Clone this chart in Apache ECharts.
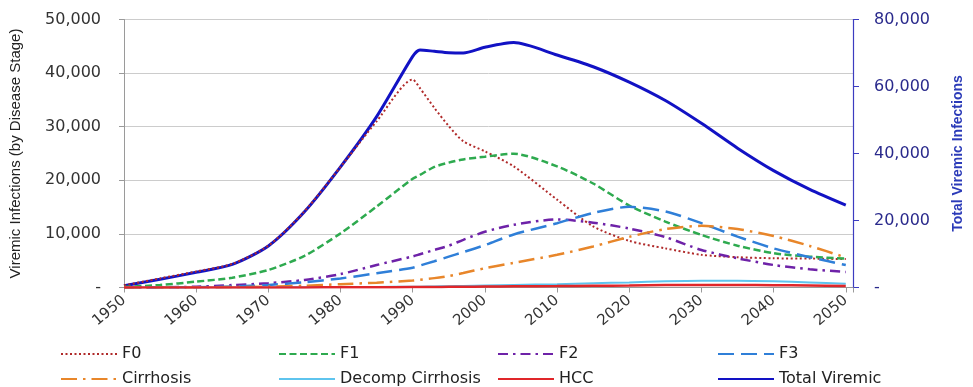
<!DOCTYPE html>
<html>
<head>
<meta charset="utf-8">
<script src="https://cdn.jsdelivr.net/npm/echarts@6/dist/echarts.min.js"></script>
<style>
  html, body { margin: 0; padding: 0; background: #fff; }
  #chart { width: 973px; height: 387px; }
</style>
</head>
<body>
<div id="chart"></div>
<script>
// Viremic infections by disease stage, 1950-2050 (left axis),
// with total viremic infections on the right axis.
const years = [1950, 1955, 1960, 1965, 1970, 1975, 1980, 1985, 1990, 1991, 1993, 1995,
               1997, 2000, 2004, 2010, 2015, 2020, 2025, 2030, 2035, 2040, 2045, 2050];

const f0 = [400, 1700, 3000, 4400, 7800, 14200, 22500, 31000, 38800, 37200, 33500, 30100,
            27300, 25400, 22600, 16400, 11400, 8700, 7300, 6100, 5650, 5450, 5400, 5300];
const f1 = [100, 470, 1090, 1830, 3270, 5900, 10100, 15100, 20300, 21000, 22500, 23300,
            23900, 24400, 24950, 22600, 19400, 15300, 12300, 9800, 7800, 6400, 5750, 5400];
const f2 = [0, 50, 150, 450, 800, 1400, 2500, 4200, 5800, 6200, 7000, 7800,
            8900, 10400, 11700, 12700, 12100, 11000, 9400, 7000, 5450, 4200, 3400, 2900];
const f3 = [0, 20, 60, 180, 470, 970, 1700, 2650, 3700, 4100, 4900, 5760,
            6600, 7900, 9900, 12000, 13900, 15050, 14200, 12000, 9500, 7300, 5650, 4200];
const cirrhosis = [0, 10, 30, 80, 160, 330, 620, 900, 1300, 1450, 1750, 2150,
                   2700, 3600, 4600, 6100, 7650, 9450, 10900, 11500, 10900, 9600, 7750, 5600];
const decompCirrhosis = [0, 0, 0, 10, 20, 40, 70, 100, 150, 160, 200, 240,
                         290, 360, 460, 620, 780, 950, 1150, 1250, 1250, 1150, 950, 700];
const hcc = [0, 0, 0, 0, 10, 20, 30, 50, 80, 90, 100, 120,
             140, 170, 210, 260, 320, 380, 450, 480, 480, 440, 380, 300];
const totalViremic = [500, 2450, 4540, 6900, 12400, 22600, 36000, 51000, 69000, 70900, 70500, 70100,
                      70000, 71700, 73100, 69400, 65900, 61300, 55800, 49000, 41600, 34900, 29300, 24600];

const leftTicks = [0, 10000, 20000, 30000, 40000, 50000];
const rightTicks = [0, 20000, 40000, 60000, 80000];
const yearTicks = [1950, 1960, 1970, 1980, 1990, 2000, 2010, 2020, 2030, 2040, 2050];

const FONT = 'DejaVu Sans';
const pairs = arr => years.map((y, i) => [y, arr[i]]);
const fmtNum = v => (v === 0 ? '-' : v.toLocaleString('en-US'));

const seriesDefs = [
  { name: 'F0', data: f0, color: '#B02A2A', width: 2, type: [2, 2.5] },
  { name: 'F1', data: f1, color: '#2EAA4F', width: 2.5, type: [7, 3.5] },
  { name: 'F2', data: f2, color: '#6E22A8', width: 2.5, type: [10, 5, 2.5, 5] },
  { name: 'F3', data: f3, color: '#2F7FD8', width: 2.5, type: [16, 7] },
  { name: 'Cirrhosis', data: cirrhosis, color: '#E8862A', width: 2.5, type: [16, 6, 2.5, 6] },
  { name: 'Decomp Cirrhosis', data: decompCirrhosis, color: '#5EC4EE', width: 2, type: 'solid' },
  { name: 'HCC', data: hcc, color: '#E0262A', width: 2.5, type: 'solid' },
  { name: 'Total Viremic', data: totalViremic, color: '#1212C4', width: 3, type: 'solid', axis: 1 }
];

// legend: two rows of four columns, one component per entry (line icon only)
const legendCols = [60, 278, 497, 717];
const legendRows = [346, 371];
const legends = seriesDefs.map((s, i) => ({
  data: [s.name],
  left: legendCols[i % 4],
  top: legendRows[Math.floor(i / 4)],
  padding: 0,
  itemWidth: 56,
  itemHeight: 14,
  itemGap: 5,
  selectedMode: false,
  itemStyle: { opacity: 0, borderWidth: 0 },
  textStyle: { fontFamily: FONT, fontSize: 16, color: '#222' }
}));

const series = seriesDefs.map(s => ({
  name: s.name,
  type: 'line',
  yAxisIndex: s.axis || 0,
  data: pairs(s.data),
  symbol: 'none',
  smooth: 0.25,
  z: s.axis ? 1 : 2,
  color: s.color,
  lineStyle: { color: s.color, width: s.width, type: s.type, cap: 'butt' },
  animation: false
}));

const chart = echarts.init(document.getElementById('chart'), null, { renderer: 'canvas' });
chart.setOption({
  backgroundColor: '#fff',
  animation: false,
  grid: { left: 123.5, right: 114, top: 19.5, bottom: 99.5 },
  legend: legends,
  xAxis: {
    type: 'value',
    min: 1950,
    max: 2051,
    interval: 10,
    axisLine: { lineStyle: { color: '#9a9a9a', width: 1 } },
    axisTick: { show: true, length: 5, lineStyle: { color: '#9a9a9a' } },
    splitLine: { show: false },
    axisLabel: {
      rotate: 40,
      margin: 11,
      fontFamily: FONT,
      fontSize: 15,
      color: '#333',
      formatter: v => (yearTicks.includes(v) ? String(v) : '')
    }
  },
  yAxis: [
    {
      type: 'value',
      min: leftTicks[0],
      max: leftTicks[leftTicks.length - 1],
      interval: leftTicks[1] - leftTicks[0],
      name: 'Viremic Infections (by Disease Stage)',
      nameLocation: 'middle',
      nameGap: 101,
      nameTextStyle: { fontFamily: 'Liberation Sans', fontSize: 15, color: '#222' },
      axisLine: { show: true, lineStyle: { color: '#9a9a9a' } },
      axisTick: { show: true, length: 5, lineStyle: { color: '#9a9a9a' } },
      splitLine: { show: true, lineStyle: { color: '#cccccc', width: 1 } },
      axisLabel: { margin: 23, fontFamily: FONT, fontSize: 16, color: '#333', formatter: fmtNum }
    },
    {
      type: 'value',
      position: 'right',
      min: rightTicks[0],
      max: rightTicks[rightTicks.length - 1],
      interval: rightTicks[1] - rightTicks[0],
      name: 'Total Viremic Infections',
      nameLocation: 'middle',
      nameGap: 98,
      nameRotate: 90,
      nameTextStyle: { fontFamily: 'Liberation Sans', fontSize: 14, fontWeight: 'bold', color: '#2B3BB8' },
      axisLine: { show: true, lineStyle: { color: '#3C3CC0', width: 1.2 } },
      axisTick: { show: true, length: 6, lineStyle: { color: '#3C3CC0' } },
      splitLine: { show: false },
      axisLabel: { margin: 21, fontFamily: FONT, fontSize: 16, color: '#2A2A8C', formatter: fmtNum }
    }
  ],
  series: series
});
</script>
</body>
</html>
